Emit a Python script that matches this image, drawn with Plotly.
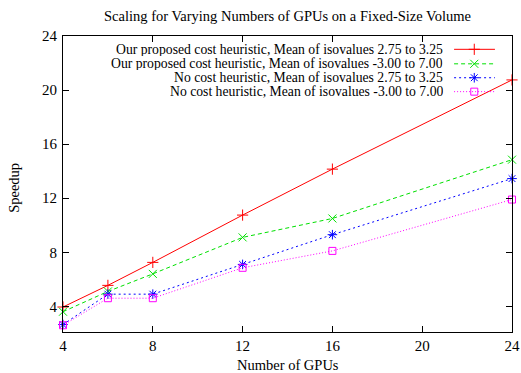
import plotly.graph_objects as go

gpus = [4, 6, 8, 12, 16, 24]
red_vals = [3.95, 5.55, 7.25, 10.75, 14.15, 20.75]
green_vals = [3.6, 5.1, 6.4, 9.1, 10.5, 14.85]
blue_vals = [2.65, 4.9, 4.9, 7.1, 9.3, 13.45]
magenta_vals = [2.6, 4.6, 4.6, 6.85, 8.1, 11.9]

names = [
    "Our proposed cost heuristic, Mean of isovalues 2.75 to 3.25",
    "Our proposed cost heuristic, Mean of isovalues -3.00 to 7.00",
    "No cost heuristic, Mean of isovalues 2.75 to 3.25",
    "No cost heuristic, Mean of isovalues -3.00 to 7.00",
]
series = [red_vals, green_vals, blue_vals, magenta_vals]
colors = ["#ff0000", "#00e000", "#0000ff", "#ff00ff"]
dashes = ["solid", "4px,3px", "2px,3px", "1px,2px"]
symbols = ["cross-thin", "x-thin", "asterisk", "square-open"]
msizes = [8, 8, 8, 7]

x_ticks = [4, 8, 12, 16, 20, 24]
y_ticks = [4, 8, 12, 16, 20, 24]

FONT = "Liberation Serif, Times New Roman, serif"

fig = go.Figure()
for name, vals, c, d, s, ms in zip(names, series, colors, dashes, symbols, msizes):
    fig.add_trace(go.Scatter(
        x=gpus, y=vals, name=name, mode="lines+markers",
        line=dict(color=c, width=1, dash=d),
        marker=dict(symbol=s, size=ms, color=c, line=dict(color=c, width=1)),
        showlegend=False, cliponaxis=False,
    ))

# custom gnuplot-style key (text right-aligned, sample on the right)
row_y = [0.955, 0.906, 0.859, 0.812]
for name, c, d, s, ms, ry in zip(names, colors, dashes, symbols, msizes, row_y):
    fig.add_trace(go.Scatter(
        x=[0.871, 0.962], y=[ry, ry], mode="lines", xaxis="x2", yaxis="y2",
        line=dict(color=c, width=1, dash=d), showlegend=False, hoverinfo="skip",
    ))
    fig.add_trace(go.Scatter(
        x=[0.916], y=[ry], mode="markers", xaxis="x2", yaxis="y2",
        marker=dict(symbol=s, size=ms, color=c, line=dict(color=c, width=1)),
        showlegend=False, hoverinfo="skip",
    ))
    fig.add_annotation(
        x=0.849, y=ry, xref="paper", yref="paper", text=name, showarrow=False,
        xanchor="right", yanchor="middle", height=13, valign="middle", borderpad=0,
        font=dict(family=FONT, size=13.7, color="black"),
    )

# axis titles
fig.add_annotation(x=0.5, y=0, xref="paper", yref="paper", text="Number of GPUs",
                   showarrow=False, xanchor="center", yanchor="middle", yshift=-33,
                   font=dict(family=FONT, size=14.5, color="black"))
fig.add_annotation(x=0, y=0.487, xref="paper", yref="paper", text="Speedup",
                   showarrow=False, xanchor="center", yanchor="middle", xshift=-49,
                   textangle=-90, font=dict(family=FONT, size=14.5, color="black"))

axis_common = dict(
    showline=True, linecolor="black", linewidth=1, mirror="allticks",
    ticks="inside", ticklen=6, tickcolor="black", tickwidth=1,
    showgrid=False, zeroline=False, automargin=False,
    tickfont=dict(family=FONT, size=15, color="black"),
)

fig.update_layout(
    width=521, height=373,
    margin=dict(l=63, r=9, t=36, b=41, autoexpand=False),
    paper_bgcolor="white", plot_bgcolor="white",
    title=dict(text="Scaling for Varying Numbers of GPUs on a Fixed-Size Volume",
               x=0.5, xref="paper", y=0.958, yref="container", xanchor="center", yanchor="middle",
               font=dict(family=FONT, size=14.5, color="black")),
    xaxis=dict(range=[4, 24], tickvals=x_ticks, ticktext=[str(v) for v in x_ticks],
               ticklabelstandoff=0, **axis_common),
    yaxis=dict(range=[2.1, 24], tickvals=y_ticks, ticktext=[str(v) for v in y_ticks],
               ticklabelstandoff=2, **axis_common),
    xaxis2=dict(range=[0, 1], overlaying="x", visible=False, fixedrange=True),
    yaxis2=dict(range=[0, 1], overlaying="y", visible=False, fixedrange=True),
    showlegend=False,
)

fig.write_html("out.html", config={"displayModeBar": False},
               post_script="document.body.style.margin='0px';document.body.style.overflow='hidden';")
